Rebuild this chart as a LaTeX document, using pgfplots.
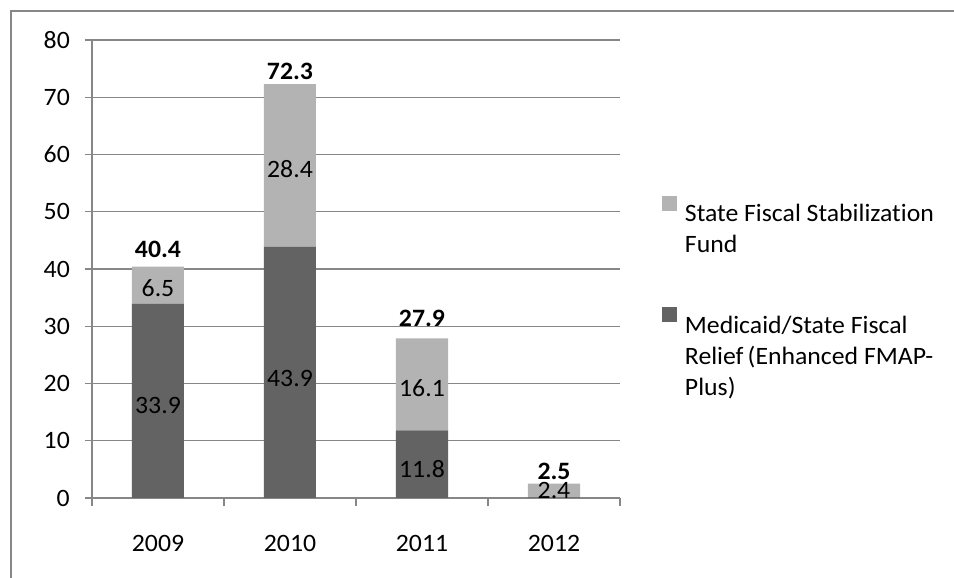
\documentclass[border=0pt]{standalone}
\usepackage{fontspec}
\setmainfont[FakeStretch=1.03, Ligatures=NoCommon]{Carlito}
\usepackage{pgfplots}
\pgfplotsset{compat=1.18}
\definecolor{darkbar}{HTML}{636363}
\definecolor{lightbar}{HTML}{B3B3B3}
\definecolor{gridc}{HTML}{878787}
\newcommand{\lab}{\fontsize{25bp}{31bp}\selectfont}
\begin{document}
\begin{tikzpicture}
\useasboundingbox (-92bp,-80bp) rectangle (862bp,498bp);
\draw[gridc, line width=1.8bp] (-81bp,-80bp) -- (-81bp,487bp) -- (862bp,487bp);
\begin{axis}[
  at={(0,0)}, anchor=south west,
  scale only axis, width=528bp, height=458bp,
  xmin=-0.5, xmax=3.5, ymin=0, ymax=80,
  ybar stacked, bar width=52bp,
  axis x line*=bottom, axis y line*=left,
  axis line style={gridc, line width=1.2bp, -},
  ytick={0,10,...,80},
  ymajorgrids, grid style={gridc, line width=1.2bp},
  tick align=outside,
  major tick length=7bp, minor tick length=8bp,
  ytick style={gridc, line width=1.2bp},
  xtick={0,1,2,3}, xticklabels={2009,2010,2011,2012},
  minor xtick={-0.5,0.5,1.5,2.5,3.5},
  major x tick style={draw=none},
  minor x tick style={gridc, line width=1.2bp},
  /pgf/number format/assume math mode=true,
  tick label style={font=\lab, inner sep=0pt},
  yticklabel style={anchor=east, xshift=-15bp},
  xticklabel style={anchor=north, yshift=-30bp},
  clip=false,
  reverse legend,
  legend style={at={(1.0795,0.6594)}, anchor=north west, draw=none, fill=none,
    inner sep=0pt, outer sep=0pt, row sep=84bp, column sep=8bp,
    nodes={inner sep=0pt, text width=265bp, align=flush left, font=\lab}},
  legend cell align=left,
]
\addplot[fill=darkbar, draw=none, legend image code/.code={\fill[darkbar] (0bp,3bp) rectangle (15bp,18bp);}]
  coordinates {(0,33.9) (1,43.9) (2,11.8) (3,0.1)};
\addplot[fill=lightbar, draw=none, legend image code/.code={\fill[lightbar] (0bp,3bp) rectangle (15bp,18bp);}]
  coordinates {(0,6.5) (1,28.4) (2,16.1) (3,2.4)};
\legend{{Medicaid/State Fiscal\\Relief\,(Enhanced FMAP-\\Plus)}, {State Fiscal Stabilization\\Fund}}
\coordinate (a1) at (axis cs:0,16.2);
\coordinate (a2) at (axis cs:0,36.6);
\coordinate (a3) at (axis cs:0,43.5);
\coordinate (b1) at (axis cs:1,20.9);
\coordinate (b2) at (axis cs:1,57.5);
\coordinate (b3) at (axis cs:1,74.6);
\coordinate (c1) at (axis cs:2,5.1);
\coordinate (c2) at (axis cs:2,19.1);
\coordinate (c3) at (axis cs:2,31.3);
\coordinate (d2) at (axis cs:3,1.3);
\coordinate (d3) at (axis cs:3,4.6);
\end{axis}
\node[font=\lab] at (a1) {33.9};
\node[font=\lab] at (a2) {6.5};
\node[font=\lab\bfseries] at (a3) {40.4};
\node[font=\lab] at (b1) {43.9};
\node[font=\lab] at (b2) {28.4};
\node[font=\lab\bfseries] at (b3) {72.3};
\node[font=\lab] at (c1) {11.8};
\node[font=\lab] at (c2) {16.1};
\node[font=\lab\bfseries] at (c3) {27.9};
\node[font=\lab] at (d2) {2.4};
\node[font=\lab\bfseries] at (d3) {2.5};
\end{tikzpicture}
\end{document}
